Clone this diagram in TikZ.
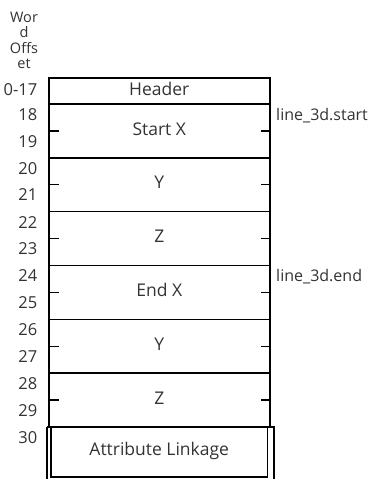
\documentclass[tikz,border=0pt]{standalone}
\usepackage{fontspec}
\setmainfont{Open Sans}
\usetikzlibrary{positioning}
\definecolor{inkgray}{RGB}{51,51,51}
\tikzset{
    field/.style={draw, line width=1.4pt, outer sep=0pt, inner sep=0pt,
        minimum width=221.5pt, minimum height=53.8pt,
        text height=12.5pt, text depth=4.3pt, text=inkgray,
        font=\fontsize{17.5}{20}\selectfont},
    offs/.style={inner sep=0pt, text=inkgray, anchor=base east,
        font=\fontsize{16.5}{19}\selectfont},
    tag/.style={offs, anchor=base west, font=\fontsize{16}{19}\selectfont},
    side/.style={line width=2pt},
    tick/.style={line width=1.2pt}
}
\begin{document}
\begin{tikzpicture}[x=1pt,y=-1pt]
    \useasboundingbox (0,0) rectangle (370,479);
    % column caption
    \node[inner sep=0pt, align=center, anchor=north, text=inkgray,
        font=\fontsize{14.5}{15.5}\selectfont] (wo) at (24,11.5) {Wor\\d\\Offs\\et};
    % the record, one field per two words
    \node[field, minimum height=26pt, anchor=north west] (hdr) at (48.5,78) {Header};
    \foreach \name/\txt [remember=\name as \prev (initially hdr)] in
        {sx/Start X, sy/Y, sz/Z, ex/End X, ey/Y, ez/Z}{
        \node[field, below=0pt of \prev] (\name) {\txt};
    }
    \node[field, minimum width=216.8pt, minimum height=50pt, below=0pt of ez] (attr) {Attribute Linkage};
    % word offsets and half-way ticks
    \node[offs] (o0) at ([xshift=-11pt, yshift=-17pt]hdr.north west) {0-17};
    \foreach \name/\a/\b in {sx/18/19, sy/20/21, sz/22/23, ex/24/25, ey/26/27, ez/28/29}{
        \node[offs] (o\a) at ([xshift=-11pt, yshift=-16.5pt]\name.north west) {\a};
        \node[offs] (o\b) at ([xshift=-11pt, yshift=-43pt]\name.north west) {\b};
        \draw[tick] (\name.west) -- ++(10,0);
        \draw[tick] (\name.east) -- ++(-9,0);
    }
    \node[offs] (o30) at ([xshift=-11pt, yshift=-16.5pt]ez.south west) {30};
    % thick outline of the fixed part
    \draw[side] (hdr.north west) -- (hdr.north east);
    \draw[side] (hdr.north west) -- (ez.south west);
    \draw[side] (hdr.north east) -- (ez.south east);
    % linkage runs on past the page
    \draw[field] ([xshift=-2pt]ez.south west) -- ([xshift=4.5pt]ez.south east);
    \draw[side] ([xshift=-1.5pt]ez.south west) -- ++(0,60);
    \draw[side] ([xshift=4pt]ez.south east) -- ++(0,60);
    % field names
    \node[tag] (ts) at ([xshift=6pt, yshift=-16.5pt]sx.north east) {line\_3d.start};
    \node[tag] (te) at ([xshift=6pt, yshift=-16.5pt]ex.north east) {line\_3d.end};
\end{tikzpicture}
\end{document}
